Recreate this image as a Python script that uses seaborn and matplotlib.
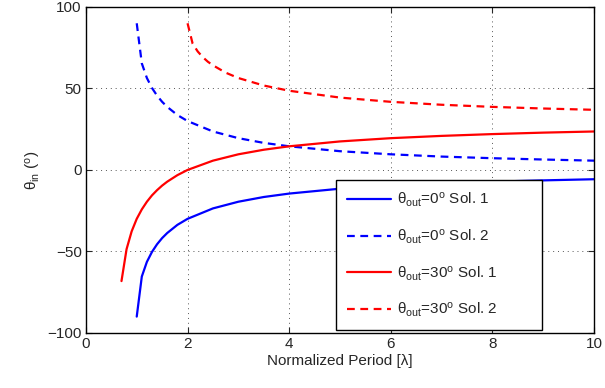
import matplotlib
matplotlib.use("Agg")
import matplotlib.pyplot as plt
import seaborn as sns
import pandas as pd

# values
x_sol_0 = [1.0, 1.1, 1.2, 1.3, 1.4, 1.5, 1.6, 1.8, 2.0, 2.5, 3.0, 3.5, 4.0, 5.0, 6.0, 7.0, 8.0, 9.0, 10.0]
y_out0_sol1 = [-90.0, -65.4, -56.4, -50.3, -45.6, -41.8, -38.7, -33.7, -30.0, -23.6, -19.5, -16.6,
               -14.5, -11.5, -9.6, -8.2, -7.2, -6.4, -5.7]
y_out0_sol2 = [90.0, 65.4, 56.4, 50.3, 45.6, 41.8, 38.7, 33.7, 30.0, 23.6, 19.5, 16.6,
               14.5, 11.5, 9.6, 8.2, 7.2, 6.4, 5.7]

x_out30_sol1 = [0.7, 0.8, 0.9, 1.0, 1.1, 1.2, 1.3, 1.4, 1.5, 1.6, 1.8, 2.0, 2.5, 3.0, 3.5, 4.0,
                5.0, 6.0, 7.0, 8.0, 9.0, 10.0]
y_out30_sol1 = [-68.2, -48.6, -37.7, -30.0, -24.2, -19.5, -15.6, -12.4, -9.6, -7.2, -3.2, 0.0,
                5.7, 9.6, 12.4, 14.5, 17.5, 19.5, 20.9, 22.0, 22.9, 23.6]

x_out30_sol2 = [2.0, 2.1, 2.2, 2.3, 2.4, 2.5, 2.75, 3.0, 3.5, 4.0, 5.0, 6.0, 7.0, 8.0, 9.0, 10.0]
y_out30_sol2 = [90.0, 77.5, 72.7, 69.2, 66.4, 64.2, 59.7, 56.4, 51.8, 48.6, 44.4, 41.8, 40.0,
                38.7, 37.7, 36.9]

labels = [r'θ$_{\mathrm{out}}$=0$^{\mathrm{o}}$ Sol. 1',
          r'θ$_{\mathrm{out}}$=0$^{\mathrm{o}}$ Sol. 2',
          r'θ$_{\mathrm{out}}$=30$^{\mathrm{o}}$ Sol. 1',
          r'θ$_{\mathrm{out}}$=30$^{\mathrm{o}}$ Sol. 2']
x_ticks = [0, 2, 4, 6, 8, 10]
y_ticks = [-100, -50, 0, 50, 100]

sns.set_style("white")
plt.rcParams['font.family'] = ['Liberation Sans', 'DejaVu Sans']
plt.rcParams['mathtext.fontset'] = 'custom'
plt.rcParams['mathtext.rm'] = 'Liberation Sans'
plt.rcParams['mathtext.it'] = 'Liberation Sans:italic'
plt.rcParams['mathtext.default'] = 'regular'

FS = 11

fig = plt.figure(figsize=(6.05, 3.88), dpi=100)
ax = fig.add_axes([0.142, 0.142, 0.840, 0.840])

series = [
    (x_sol_0, y_out0_sol1, 'blue', '-'),
    (x_sol_0, y_out0_sol2, 'blue', '--'),
    (x_out30_sol1, y_out30_sol1, 'red', '-'),
    (x_out30_sol2, y_out30_sol2, 'red', '--'),
]
for (xs, ys, c, ls), lab in zip(series, labels):
    df = pd.DataFrame({'x': xs, 'y': ys})
    sns.lineplot(data=df, x='x', y='y', color=c, linestyle=ls, linewidth=1.6,
                 label=lab, ax=ax, sort=False)
    if ls == '--':
        ax.lines[-1].set_dashes((3.5, 2.5))

ax.set_xlim(0, 10)
ax.set_ylim(-100, 100)
ax.set_xticks(x_ticks)
ax.set_yticks(y_ticks)
ax.set_xlabel('Normalized Period [λ]', fontsize=FS, labelpad=2)
ax.set_ylabel(r'θ$_{\mathrm{in}}$ ($^{\mathrm{o}}$)', fontsize=FS, labelpad=3)
ax.tick_params(direction='in', length=4, width=0.8, labelsize=FS, top=True, right=True,
               bottom=True, left=True, pad=3)
ax.grid(True, linestyle=(0, (1, 4)), color='#555555', linewidth=0.7)
for s in ax.spines.values():
    s.set_color('black')
    s.set_linewidth(1.0)

leg = ax.legend(loc='lower left', bbox_to_anchor=(0.492, 0.009, 0.406, 0.46),
                mode='expand', borderaxespad=0,
                fontsize=FS, handlelength=2.9, labelspacing=1.2, fancybox=False,
                framealpha=1, edgecolor='black', borderpad=0.7, handletextpad=0.4)
leg.get_frame().set_linewidth(1.0)

fig.savefig('out.png', dpi=100)
